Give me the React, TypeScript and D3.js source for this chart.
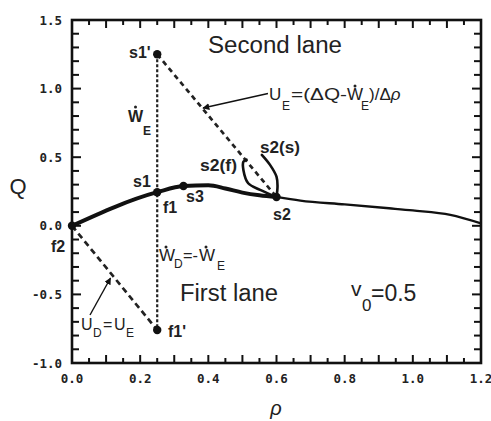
import React from "react";
import * as d3 from "d3";

// ---- data ----
const mainRho = [0, 0.25, 0.327, 0.4, 0.45, 0.5, 0.55, 0.6];
const mainQ = [0, 0.245, 0.29, 0.295, 0.272, 0.242, 0.222, 0.21];
const tailRho = [0.6, 0.67, 0.8, 0.93, 1.0, 1.11, 1.2];
const tailQ = [0.21, 0.183, 0.156, 0.128, 0.112, 0.08, 0.018];
const loopSRho = [0.6, 0.603, 0.6, 0.581, 0.557];
const loopSQ = [0.21, 0.29, 0.358, 0.444, 0.517];
const loopFRho = [0.6, 0.552, 0.517, 0.503, 0.503, 0.512];
const loopFQ = [0.21, 0.262, 0.31, 0.405, 0.467, 0.482];
const pointNames = ["f2", "s1", "s3", "s2", "s1'", "f1'"];
const pointRho = [0, 0.25, 0.327, 0.6, 0.25, 0.25];
const pointQ = [0, 0.245, 0.29, 0.21, 1.25, -0.76];
const xTickLabels = [0, 0.2, 0.4, 0.6, 0.8, 1.0, 1.2];
const yTickLabels = [1.5, 1.0, 0.5, 0.0, -0.5, -1.0];

const W = 491;
const H = 421;
const x = d3.scaleLinear().domain([0, 1.2]).range([72, 481]);
const y = d3.scaleLinear().domain([-1, 1.5]).range([363, 20]);

const P = (name: string) => {
  const i = pointNames.indexOf(name);
  return [x(pointRho[i]), y(pointQ[i])];
};

const zip = (a: number[], b: number[]) => a.map((v, i) => [v, b[i]] as [number, number]);
const mkLine = (curve: d3.CurveFactory) =>
  d3
    .line<[number, number]>()
    .x((d) => x(d[0]))
    .y((d) => y(d[1]))
    .curve(curve);

const xTicks: number[] = [];
for (let i = 0; i <= 24; i++) xTicks.push(i * 0.05);
const yTicks: number[] = [];
for (let i = 0; i <= 25; i++) yTicks.push(-1 + i * 0.1);

export default function App() {
  const mainPath = mkLine(d3.curveMonotoneX)(zip(mainRho, mainQ)) || "";
  const tailPath = mkLine(d3.curveMonotoneX)(zip(tailRho, tailQ)) || "";
  const loopS = mkLine(d3.curveCatmullRom)(zip(loopSRho, loopSQ)) || "";
  const loopF = mkLine(d3.curveCatmullRom)(zip(loopFRho, loopFQ)) || "";

  const [s1px, s1py] = P("s1'");
  const [s2x, s2y] = P("s2");
  const [f2x, f2y] = P("f2");
  const [f1px, f1py] = P("f1'");

  const x0 = x(0), x1 = x(1.2), yb = y(-1), yt = y(1.5);

  const sans = "Liberation Sans, Arial, Helvetica, sans-serif";
  const mono = "DejaVu Sans Mono, monospace";

  return (
    <svg
      width={W}
      height={H}
      style={{ position: "absolute", left: 0, top: 0, background: "#fff" }}
      fontFamily={sans}
    >
      <defs>
        <marker id="ah" viewBox="0 0 10 10" refX="9" refY="5" markerWidth="5" markerHeight="5" orient="auto-start-reverse">
          <path d="M0,0 L10,5 L0,10 z" fill="#111" />
        </marker>
      </defs>
      <rect x={x0} y={yt} width={x1 - x0} height={yb - yt} fill="none" stroke="#111" strokeWidth={2.6} />
      {/* ticks */}
      {xTicks.map((t, i) => {
        const len = i % 2 === 0 ? 8 : 5;
        const xx = x(t);
        return (
          <g key={"xt" + i}>
            <line x1={xx} x2={xx} y1={yb} y2={yb - len} stroke="#111" strokeWidth={2} />
            <line x1={xx} x2={xx} y1={yt} y2={yt + len} stroke="#111" strokeWidth={2} />
          </g>
        );
      })}
      {yTicks.map((t, i) => {
        const len = i % 5 === 0 ? 9 : 7;
        const yy = y(t);
        return (
          <g key={"yt" + i}>
            <line x1={x0} x2={x0 + len} y1={yy} y2={yy} stroke="#111" strokeWidth={2} />
            <line x1={x1} x2={x1 - len} y1={yy} y2={yy} stroke="#111" strokeWidth={2} />
          </g>
        );
      })}
      {/* tick labels */}
      {xTickLabels.map((t) => (
        <text key={"xl" + t} x={x(t)} y={383} textAnchor="middle" fontFamily={mono} fontWeight="bold" fontSize={12.5} fill="#222">
          {t.toFixed(1)}
        </text>
      ))}
      {yTickLabels.map((t) => (
        <text key={"yl" + t} x={62} y={y(t) + 4.5} textAnchor="end" fontFamily={mono} fontWeight="bold" fontSize={12.5} fill="#222">
          {t.toFixed(1)}
        </text>
      ))}
      <text x={18} y={194} textAnchor="middle" fontSize={22} fill="#222">Q</text>
      <text x={276} y={415} textAnchor="middle" fontSize={20} fontStyle="italic" fill="#222">ρ</text>

      {/* dashed construction lines */}
      <line x1={s1px} y1={s1py} x2={f1px} y2={f1py} stroke="#222" strokeWidth={2.2} strokeDasharray="3 2" />
      <line x1={s1px} y1={s1py} x2={s2x} y2={s2y} stroke="#222" strokeWidth={2.7} strokeDasharray="5 4" />
      <line x1={f2x} y1={f2y} x2={f1px} y2={f1py} stroke="#222" strokeWidth={2.7} strokeDasharray="6 4" />

      {/* curves */}
      <path d={mainPath} fill="none" stroke="#111" strokeWidth={4} strokeLinecap="round" />
      <path d={tailPath} fill="none" stroke="#111" strokeWidth={2.3} />
      <path d={loopS} fill="none" stroke="#111" strokeWidth={2.6} strokeLinecap="round" />
      <path d={loopF} fill="none" stroke="#111" strokeWidth={2.6} strokeLinecap="round" />

      {/* points */}
      {pointNames.map((n, i) => (
        <circle key={n} cx={x(pointRho[i])} cy={y(pointQ[i])} r={4.2} fill="#111" />
      ))}

      {/* leader arrows */}
      <line x1={268} y1={93.5} x2={203} y2={108} stroke="#111" strokeWidth={1.4} markerEnd="url(#ah)" />
      <line x1={90} y1={315} x2={110.5} y2={278} stroke="#111" strokeWidth={1.4} markerEnd="url(#ah)" />

      {/* point labels */}
      <g fontWeight="bold" fontSize={16} fill="#222">
        <text x={129} y={58}>s1'</text>
        <text x={133} y={187}>s1</text>
        <text x={163} y={213}>f1</text>
        <text x={186} y={202}>s3</text>
        <text x={200} y={171} textLength={37} lengthAdjust="spacingAndGlyphs">s2(f)</text>
        <text x={260} y={153} textLength={40} lengthAdjust="spacingAndGlyphs">s2(s)</text>
        <text x={273} y={220}>s2</text>
        <text x={51} y={252}>f2</text>
        <text x={168} y={337}>f1'</text>
      </g>

      {/* region labels */}
      <text x={208} y={53} fontSize={23} fill="#222" textLength={134} lengthAdjust="spacingAndGlyphs">Second lane</text>
      <text x={180} y={301} fontSize={23} fill="#222" textLength={98} lengthAdjust="spacingAndGlyphs">First lane</text>
      <text x={351} y={296} fontSize={21} fill="#222">v</text>
      <text x={362} y={311} fontSize={17} fill="#222">0</text>
      <text x={371} y={301} fontSize={23} fill="#222">=0.5</text>

      {/* W_E near vertical line */}
      <g fill="#222">
        <text x={128} y={122} fontSize={16} fontWeight="bold">W</text>
        <circle cx={135.5} cy={107} r={1.5} />
        <text x={143} y={135} fontSize={12} fontWeight="bold">E</text>
      </g>

      {/* W_D = -W_E */}
      <g fill="#222">
        <text x={159} y={261} fontSize={17}>W</text>
        <circle cx={166} cy={247} r={1.5} />
        <text x={174} y={268} fontSize={12}>D</text>
        <text x={183} y={261} fontSize={17} textLength={15} lengthAdjust="spacingAndGlyphs">=-</text>
        <text x={199} y={261} fontSize={17}>W</text>
        <circle cx={206} cy={247} r={1.5} />
        <text x={217} y={270} fontSize={12}>E</text>
      </g>

      {/* U_D = U_E */}
      <g fill="#222">
        <text x={81} y={330} fontSize={16}>U</text>
        <text x={93} y={337} fontSize={12}>D</text>
        <text x={103} y={330} fontSize={16}>=</text>
        <text x={114} y={330} fontSize={16}>U</text>
        <text x={126} y={337} fontSize={12}>E</text>
      </g>

      {/* U_E = (ΔQ - W_E)/Δρ */}
      <g fill="#222">
        <text x={269} y={100} fontSize={17}>U</text>
        <text x={282} y={110} fontSize={12}>E</text>
        <text x={291} y={100} fontSize={17} textLength={56} lengthAdjust="spacingAndGlyphs">=(ΔQ-</text>
        <text x={347} y={100} fontSize={17}>W</text>
        <circle cx={355} cy={86} r={1.5} />
        <text x={361} y={110} fontSize={12}>E</text>
        <text x={369} y={100} fontSize={17}>)/Δ<tspan fontStyle="italic">ρ</tspan></text>
      </g>
    </svg>
  );
}
